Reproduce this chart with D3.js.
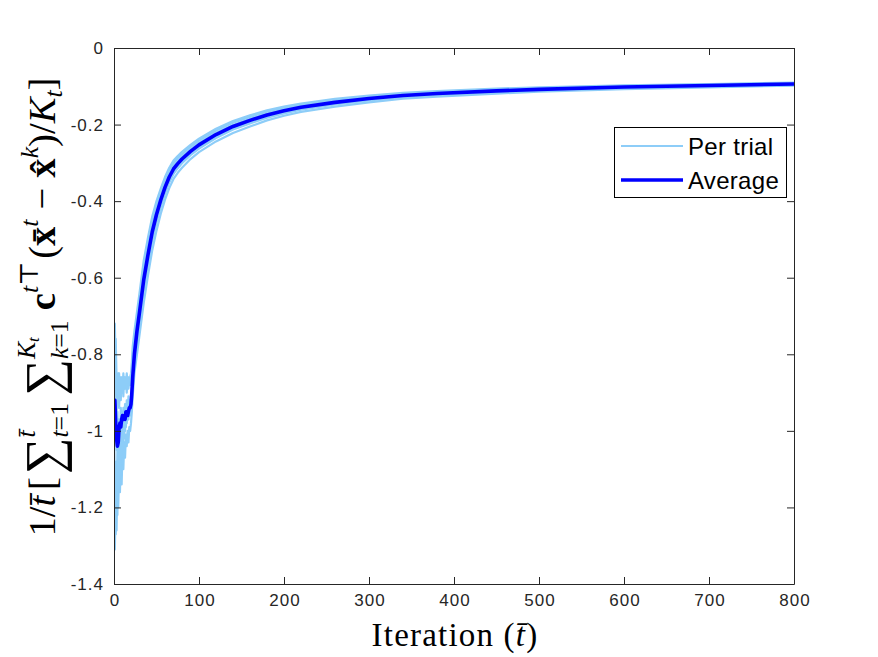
<!DOCTYPE html>
<html><head><meta charset="utf-8">
<script src="https://cdn.jsdelivr.net/npm/d3@7"></script>
<style>
html,body{margin:0;padding:0;background:#fff;}
svg{display:block;}
</style></head>
<body>
<svg id="chart" width="878" height="657"></svg>
<script>
// ---------- data ----------
const tGrid = [0,1,2,3,4,5,6,7,8,9,10,11,12,13,14,15,16,17,18,19,20,21,22,24,
  27,30,35,40,45,50,55,60,65,70,75,80,90,100,120,140,160,180,200,220,260,300,340,380,450,500,600,700,800];

const averageValues = [-0.93,-0.92,-0.98,-1.02,-1.04,-1.03,-0.99,-0.98,-0.99,-0.97,-0.96,-0.97,-0.96,-0.97,-0.95,-0.95,-0.96,-0.95,-0.94,-0.94,-0.93,-0.90,-0.86,-0.80,
  -0.74,-0.69,-0.605,-0.54,-0.48,-0.435,-0.397,-0.364,-0.337,-0.316,-0.302,-0.29,-0.27,-0.253,-0.226,-0.205,-0.189,-0.175,-0.164,-0.155,-0.142,-0.132,-0.124,-0.119,-0.112,-0.108,-0.102,-0.098,-0.094];

const trialA = [-0.85,-0.72,-0.84,-0.97,-0.86,-0.93,-0.85,-0.91,-0.86,-0.90,-0.87,-0.91,-0.86,-0.89,-0.87,-0.90,-0.86,-0.89,-0.87,-0.88,-0.87,-0.85,-0.82,-0.76,
  -0.705,-0.655,-0.57,-0.508,-0.452,-0.41,-0.376,-0.345,-0.32,-0.301,-0.288,-0.277,-0.258,-0.242,-0.2155,-0.195,-0.180,-0.1666,-0.1563,-0.148,-0.1357,-0.1264,-0.1191,-0.1145,-0.1078,-0.1045,-0.0988,-0.0952,-0.0915];
const trialB = [-1.10,-1.31,-1.18,-1.26,-1.12,-1.20,-1.10,-1.16,-1.07,-1.14,-1.05,-1.10,-1.03,-1.07,-1.01,-1.04,-1.00,-1.03,-0.99,-1.00,-0.98,-0.95,-0.91,-0.85,
  -0.80,-0.75,-0.665,-0.594,-0.528,-0.477,-0.433,-0.396,-0.366,-0.342,-0.326,-0.313,-0.29,-0.272,-0.244,-0.222,-0.205,-0.189,-0.177,-0.167,-0.153,-0.142,-0.132,-0.127,-0.119,-0.114,-0.1074,-0.1028,-0.0982];
const trialC = [-0.95,-1.15,-1.27,-1.08,-1.22,-1.02,-1.15,-0.98,-1.12,-0.96,-1.05,-0.94,-1.02,-0.93,-0.99,-0.92,-0.97,-0.91,-0.95,-0.92,-0.92,-0.89,-0.86,-0.79,
  -0.725,-0.675,-0.59,-0.527,-0.468,-0.425,-0.388,-0.356,-0.33,-0.309,-0.296,-0.284,-0.265,-0.248,-0.2215,-0.201,-0.185,-0.1714,-0.1607,-0.152,-0.1393,-0.1296,-0.1219,-0.117,-0.1102,-0.1065,-0.1006,-0.0968,-0.093];
const trialD = [-0.85,-1.00,-0.92,-1.05,-0.95,-1.08,-0.97,-1.04,-0.94,-1.00,-0.95,-0.98,-0.94,-0.97,-0.93,-0.96,-0.94,-0.96,-0.93,-0.95,-0.94,-0.92,-0.88,-0.83,
  -0.77,-0.72,-0.635,-0.567,-0.504,-0.456,-0.415,-0.38,-0.351,-0.329,-0.314,-0.301,-0.28,-0.263,-0.235,-0.213,-0.197,-0.182,-0.171,-0.161,-0.1474,-0.1368,-0.1282,-0.1229,-0.1156,-0.111,-0.1047,-0.1004,-0.0961];
const trialE = [-1.10,-1.28,-1.10,-1.22,-1.05,-1.15,-1.02,-1.10,-1.00,-1.06,-0.98,-1.03,-0.97,-1.00,-0.96,-0.98,-0.95,-0.97,-0.94,-0.96,-0.95,-0.93,-0.89,-0.82,
  -0.755,-0.705,-0.62,-0.553,-0.492,-0.446,-0.406,-0.372,-0.344,-0.323,-0.308,-0.296,-0.275,-0.258,-0.2305,-0.209,-0.193,-0.1786,-0.1673,-0.158,-0.1447,-0.1344,-0.1261,-0.121,-0.1138,-0.1095,-0.1034,-0.0992,-0.0951];
const trialF = [-0.78,-0.88,-0.76,-0.86,-0.92,-0.85,-0.94,-0.87,-0.92,-0.86,-0.90,-0.85,-0.89,-0.86,-0.88,-0.85,-0.88,-0.86,-0.87,-0.86,-0.85,-0.82,-0.78,-0.74,
  -0.69,-0.64,-0.555,-0.495,-0.44,-0.40,-0.367,-0.337,-0.313,-0.294,-0.282,-0.271,-0.253,-0.237,-0.211,-0.191,-0.176,-0.163,-0.153,-0.145,-0.133,-0.124,-0.117,-0.1125,-0.106,-0.103,-0.0975,-0.094,-0.0905];
const trials = [trialA, trialB, trialC, trialD, trialE, trialF];

const xTicks = [0,100,200,300,400,500,600,700,800];
const yTicks = [0,-0.2,-0.4,-0.6,-0.8,-1,-1.2,-1.4];
const yTickLabels = ["0","-0.2","-0.4","-0.6","-0.8","-1","-1.2","-1.4"];
const legendLabels = ["Per trial","Average"];

// ---------- layout ----------
const L = 114, R = 794, T = 48, B = 584;
const axisColor = "#262626";
const trialColor = "#8dcdf8";
const avgColor = "#0000ff";

const svg = d3.select("#chart");
const x = d3.scaleLinear().domain([0,800]).range([L,R]);
const y = d3.scaleLinear().domain([-1.4,0]).range([B,T]);

svg.append("defs").append("clipPath").attr("id","clip")
  .append("rect").attr("x",L).attr("y",T).attr("width",R-L).attr("height",B-T);

const line = d3.line().x((d,i)=>x(tGrid[i])).y(d=>y(d));
const plot = svg.append("g").attr("clip-path","url(#clip)");
trials.forEach(tr=>{
  plot.append("path").attr("d",line(tr)).attr("fill","none")
    .attr("stroke",trialColor).attr("stroke-width",2.2).attr("stroke-linejoin","round");
});
plot.append("path").attr("d",line(averageValues)).attr("fill","none")
  .attr("stroke",avgColor).attr("stroke-width",3.6).attr("stroke-linejoin","round");

// axes
const tickFont = "'Liberation Sans', Arial, Helvetica, sans-serif";
const gx = svg.append("g").attr("transform",`translate(0,${B})`)
  .call(d3.axisBottom(x).tickValues(xTicks).tickSizeInner(-7).tickSizeOuter(0).tickPadding(10).tickFormat(d3.format("d")));
const gxt = svg.append("g").attr("transform",`translate(0,${T})`)
  .call(d3.axisTop(x).tickValues(xTicks).tickSizeInner(-7).tickSizeOuter(0).tickFormat(""));
const gy = svg.append("g").attr("transform",`translate(${L},0)`)
  .call(d3.axisLeft(y).tickValues(yTicks).tickSizeInner(-7).tickSizeOuter(0).tickPadding(10)
    .tickFormat((d,i)=>yTickLabels[i]));
const gyr = svg.append("g").attr("transform",`translate(${R},0)`)
  .call(d3.axisRight(y).tickValues(yTicks).tickSizeInner(-7).tickSizeOuter(0).tickFormat(""));
[gx,gxt,gy,gyr].forEach(g=>{
  g.selectAll("path.domain").attr("stroke",axisColor).attr("stroke-width",1);
  g.selectAll(".tick line").attr("stroke",axisColor).attr("stroke-width",1);
  g.selectAll(".tick text").attr("fill",axisColor).style("font-family",tickFont).style("font-size","17px").style("letter-spacing","1px");
});
gx.selectAll(".tick text").attr("dy","0.71em").attr("dx","0.5px");

// x label
const serif = "'Liberation Serif', 'DejaVu Serif', 'Times New Roman', serif";
const xl = svg.append("text").attr("x",(L+R)/2+1).attr("y",646).attr("text-anchor","middle")
  .style("font-family",serif).style("font-size","33px").style("letter-spacing","1.2px").attr("fill","#000");
xl.append("tspan").text("Iteration (");
xl.append("tspan").style("font-style","italic").text("t\u0304");
xl.append("tspan").text(")");

// y label (math layout)
const ylab = svg.append("g");
const inner = ylab.append("g");
const pieces = [
  {spans:[{s:"1/"}]},
  {spans:[{s:"t\u0304",it:1}]},
  {gap:4, spans:[{s:"["}]},
  {gap:2, spans:[{s:"\u2211",fs:36}], y:4},
  {spans:[{s:"t\u0304",it:1,fs:18}], y:-14},
  {stack:1, spans:[{s:"t",it:1,fs:18},{s:"=1",fs:18}], y:9},
  {gap:5, spans:[{s:"\u2211",fs:36}], y:4},
  {spans:[{s:"K",it:1,fs:18},{s:"t",it:1,fs:12,dy:3}], y:-14},
  {stack:1, spans:[{s:"k",it:1,fs:18},{s:"=1",fs:18}], y:9},
  {gap:7, spans:[{s:"c",b:1}]},
  {spans:[{s:"t",it:1,fs:18},{s:"\u22a4",fs:18}], y:-12},
  {gap:2, spans:[{s:"("}]},
  {spans:[{s:"x\u0304",b:1}]},
  {spans:[{s:"t",it:1,fs:18}], y:-12},
  {gap:7, spans:[{s:"\u2212"}]},
  {gap:7, spans:[{s:"x\u0302",b:1}]},
  {spans:[{s:"k",it:1,fs:18}], y:-12},
  {spans:[{s:")/"}]},
  {spans:[{s:"K",it:1}]},
  {spans:[{s:"t",it:1,fs:18}], y:5},
  {spans:[{s:"]"}]}
];
let cx = 0, lastStart = 0;
pieces.forEach(p=>{
  const start = p.stack ? lastStart : cx + (p.gap||0);
  const t = inner.append("text").attr("x",start).attr("y",p.y||0)
    .style("font-family",serif).style("font-size","27px").attr("fill","#000");
  p.spans.forEach(sp=>{
    const ts = t.append("tspan").text(sp.s);
    if (sp.it) ts.style("font-style","italic");
    if (sp.b) ts.style("font-weight","bold");
    if (sp.fs) ts.style("font-size",sp.fs+"px");
    if (sp.dy) ts.attr("dy",sp.dy);
  });
  const w = t.node().getComputedTextLength();
  if (p.stack) { cx = Math.max(cx, start + w); }
  else { lastStart = start; cx = start + w; }
});
const totalW = cx;
const targetLen = 459;
const k = targetLen / totalW;
inner.attr("transform",`scale(${k}) translate(${-totalW/2},0)`);
ylab.attr("transform",`translate(55,307) rotate(-90)`);

// legend
const lg = svg.append("g");
lg.append("rect").attr("x",614.5).attr("y",127.5).attr("width",172).attr("height",70)
  .attr("fill","#fff").attr("stroke","#000").attr("stroke-width",1);
const legendItems = [{label:legendLabels[0],color:trialColor,w:2.2,yy:146},{label:legendLabels[1],color:avgColor,w:3.6,yy:180}];
legendItems.forEach(it=>{
  lg.append("line").attr("x1",621).attr("x2",683).attr("y1",it.yy).attr("y2",it.yy)
    .attr("stroke",it.color).attr("stroke-width",it.w);
  lg.append("text").attr("x",688).attr("y",it.yy).attr("dy","0.36em")
    .style("font-family",tickFont).style("font-size","24px").style("letter-spacing","0.3px")
    .attr("fill","#000").text(it.label);
});
</script>
</body></html>
